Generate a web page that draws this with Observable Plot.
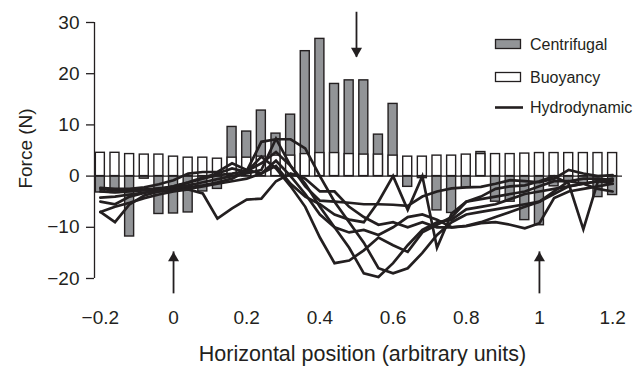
<!DOCTYPE html>
<html>
<head>
<meta charset="utf-8">
<script src="https://cdn.jsdelivr.net/npm/d3@7"></script>
<script src="https://cdn.jsdelivr.net/npm/@observablehq/plot@0.6"></script>
<style>
  html, body { margin: 0; padding: 0; background: #fff; }
  #chart svg { display: block; }
</style>
</head>
<body>
<div id="chart"></div>
<script>
// Sampling positions along the path (arbitrary units)
const positions = [-0.2, -0.16, -0.12, -0.08, -0.04, 0, 0.04, 0.08, 0.12, 0.16, 0.2, 0.24,
  0.28, 0.32, 0.36, 0.4, 0.44, 0.48, 0.52, 0.56, 0.6, 0.64, 0.68, 0.72,
  0.76, 0.8, 0.84, 0.88, 0.92, 0.96, 1, 1.04, 1.08, 1.12, 1.16, 1.2];

// Centrifugal force at each position (N)
const centrifugal = [-3.2, -3.3, -11.8, -0.5, -7.4, -7.3, -7.1, -3.0, -2.5, 9.6, 8.7, 12.8,
  8.3, 12.0, 24.4, 26.8, 18.0, 18.7, 18.7, 8.1, 14.1, -2.1, -0.4, -6.7,
  -7.2, -2.3, 4.7, -5.0, -5.0, -8.6, -9.6, -2.0, -1.0, -1.5, -4.1, -3.7];

// Buoyancy force at each position (N)
const buoyancy = [4.55, 4.55, 4.3, 4.2, 4.2, 3.8, 3.6, 3.6, 3.4, 3.6, 3.6, 3.8,
  4.0, 4.0, 4.3, 4.5, 4.5, 4.3, 4.2, 4.2, 4.0, 3.8, 3.8, 4.0,
  4.0, 4.2, 4.3, 4.3, 4.3, 4.4, 4.5, 4.5, 4.5, 4.5, 4.5, 4.5];

// Hydrodynamic force, one array per run (N)
const hydroRun1 = [-7.0, -9.0, -5.5, -3.8, -3.0, -2.6, -2.2, -1.8, -1.2, -0.5, 1.0, 2.5,
  4.7, 2.0, -2.0, -4.8, -5.0, -5.2, -5.5, -5.5, -5.6, -5.8, -4.0, -3.0,
  -2.4, -2.2, -2.1, -1.5, -0.8, -1.0, -1.2, -0.5, 1.2, 0.5, 0.0, 0.2];
const hydroRun2 = [-2.5, -2.8, -2.7, -2.6, -2.4, -2.2, -1.8, -1.2, -0.6, 0.0, 0.5, 1.2,
  7.3, 2.0, -1.5, -6.0, -10.0, -14.0, -19.0, -19.7, -17.0, -13.5, -10.5, -9.0,
  -8.5, -6.5, -6.0, -5.5, -4.5, -3.5, -3.0, -2.5, -2.0, -1.5, -1.0, -1.5];
const hydroRun3 = [-3.0, -3.2, -3.0, -2.8, -2.5, -2.0, -1.3, -0.5, 0.2, 0.5, 1.0, 6.7,
  7.2, 7.2, 5.4, 0.0, -5.0, -9.0, -13.0, -18.0, -19.0, -18.0, -15.0, -11.5,
  -9.0, -7.5, -7.0, -6.5, -6.0, -5.5, -5.0, -3.5, -2.0, -1.5, -1.0, -1.0];
const hydroRun4 = [-5.0, -5.5, -4.0, -3.3, -2.6, -2.0, -1.2, -0.3, 0.5, 1.5, 0.8, 3.8,
  1.5, -2.0, -6.0, -12.0, -17.0, -16.5, -14.5, -12.0, -13.5, -14.8, -11.0, -9.5,
  -8.0, -5.0, -4.5, -4.0, -3.5, -3.0, -2.0, -1.0, -1.0, -0.5, -0.5, -0.8];
const hydroRun5 = [-4.2, -4.0, -3.6, -3.2, -3.0, -2.8, -2.5, -2.0, -1.5, -1.0, -0.5, 0.5,
  3.0, 0.0, -3.5, -7.5, -10.0, -11.0, -10.5, -11.5, -10.0, -8.0, -7.5, -8.5,
  -10.0, -9.8, -9.2, -9.0, -9.5, -10.2, -9.2, -4.3, -3.0, -2.5, -2.0, -1.5];
const hydroRun6 = [-2.3, -2.5, -2.5, -2.2, -1.6, -0.8, 0.5, 0.8, 0.8, 2.5, 1.2, 0.5,
  2.0, -1.5, -4.0, -5.5, -7.5, -8.5, -9.0, -5.0, 0.0, -6.6, 0.0, -14.0,
  -7.3, -5.0, -4.0, -2.5, -2.0, -1.8, -1.0, 0.0, -1.5, -10.4, -1.0, -0.5];
const hydroRun7 = [-7.0, -6.0, -5.2, -4.3, -3.6, -3.0, -2.6, -3.4, -8.3, -6.3, -4.6, -4.4,
  -1.0, 0.5, -0.5, -3.0, -3.0, -6.0, -8.0, -9.5, -9.0, -10.0, -9.0, -10.0,
  -10.0, -9.7, -9.0, -8.0, -7.0, -6.0, -5.0, -3.0, -1.0, -1.5, -2.5, -3.0];

// Axis ticks
const xTicks = [-0.2, 0, 0.2, 0.4, 0.6, 0.8, 1, 1.2];
const yTicks = [-20, -10, 0, 10, 20, 30];

// Marker arrows: position and vertical extent (tail -> tip, in N)
const markerX = [0.5, 0, 1];
const markerTail = [32, -23, -23];
const markerTip = [23.2, -14.8, -14.8];

// Legend entries
const legendLabels = ["Centrifugal", "Buoyancy", "Hydrodynamic"];

// ---------------------------------------------------------------------------
const ink = "#231f20";
const grey = "#929497";
const font = "'Liberation Sans', Arial, Helvetica, sans-serif";
const xDomain = [-0.216, 1.227];
const halfBar = 0.0123;
const minusFormat = d => (d < 0 ? "\u2212" : "") + String(Math.abs(d));

const bars = positions.map((x, i) => ({x, centrifugal: centrifugal[i], buoyancy: buoyancy[i]}));
const runs = [hydroRun1, hydroRun2, hydroRun3, hydroRun4, hydroRun5, hydroRun6, hydroRun7];
const hydro = runs.flatMap((vals, k) => vals.map((v, i) => ({run: k, x: positions[i], force: v})));
const markers = markerX.map((x, i) => ({x, tail: markerTail[i], tip: markerTip[i]}));
const downMarkers = markers.filter(d => d.tip < d.tail);
const upMarkers = markers.filter(d => d.tip > d.tail);

const chart = Plot.plot({
  width: 643,
  height: 369,
  marginLeft: 94,
  marginRight: 21,
  marginTop: 22,
  marginBottom: 91,
  style: {fontFamily: font, fontSize: "19px", color: ink, background: "#fff", overflow: "visible"},
  x: {domain: xDomain},
  y: {domain: [-20, 30]},
  marks: [
    Plot.rect(bars, {x1: d => d.x - halfBar, x2: d => d.x + halfBar, y1: 0, y2: "centrifugal",
      fill: grey, stroke: ink, strokeWidth: 1.4}),
    Plot.rect(bars, {x1: d => d.x - halfBar, x2: d => d.x + halfBar, y1: 0, y2: "buoyancy",
      fill: "#fff", stroke: ink, strokeWidth: 1.4}),
    Plot.ruleY([0], {stroke: ink, strokeWidth: 1.4}),
    Plot.ruleX([xDomain[0]], {y1: -20, y2: 30, stroke: ink, strokeWidth: 1.3}),
    Plot.axisY({ticks: yTicks, tickSize: 8, tickPadding: 7, label: null, strokeWidth: 1.3,
      tickFormat: minusFormat}),
    Plot.axisX({ticks: xTicks, tickSize: 0, tickPadding: 32, label: null, tickFormat: minusFormat}),
    Plot.line(hydro, {x: "x", y: "force", z: "run", stroke: ink, strokeWidth: 2.7,
      strokeLinejoin: "miter", strokeMiterlimit: 4}),
    Plot.ruleX(markers, {x: "x", y1: "tail", y2: "tip", stroke: ink, strokeWidth: 1.8}),
    Plot.dot(downMarkers, {x: "x", y: "tip", symbol: "triangle", r: 4.1, rotate: 180, dy: -6.3, fill: ink, stroke: null}),
    Plot.dot(upMarkers, {x: "x", y: "tip", symbol: "triangle", r: 4.1, dy: 6.3, fill: ink, stroke: null}),
    Plot.text(["Force (N)"], {frameAnchor: "left", dx: -69, dy: -2, rotate: -90, textAnchor: "middle",
      fontSize: 19, fill: ink}),
    Plot.text(["Horizontal position (arbitrary units)"], {frameAnchor: "bottom", dy: 76, dx: 4,
      textAnchor: "middle", lineAnchor: "middle", fontSize: 21.5, fill: ink})
  ]
});

// Legend in the upper right of the frame
const svg = d3.select(chart);
const legend = svg.append("g")
  .attr("font-family", font)
  .attr("font-size", 16)
  .attr("fill", ink);
const rowY = [44, 77, 107.5];
legend.append("rect").attr("x", 495.5).attr("y", 39.5).attr("width", 25).attr("height", 9)
  .attr("fill", grey).attr("stroke", ink).attr("stroke-width", 1.3);
legend.append("rect").attr("x", 495.5).attr("y", 72.5).attr("width", 25).attr("height", 9)
  .attr("fill", "#fff").attr("stroke", ink).attr("stroke-width", 1.3);
legend.append("line").attr("x1", 495).attr("x2", 523).attr("y1", rowY[2]).attr("y2", rowY[2])
  .attr("stroke", ink).attr("stroke-width", 2.6);
legend.selectAll("text.entry").data(legendLabels).join("text")
  .attr("class", "entry")
  .attr("x", 530)
  .attr("y", (d, i) => rowY[i])
  .attr("dy", "0.35em")
  .attr("text-anchor", "start")
  .text(d => d);

document.getElementById("chart").append(chart);
</script>
</body>
</html>
